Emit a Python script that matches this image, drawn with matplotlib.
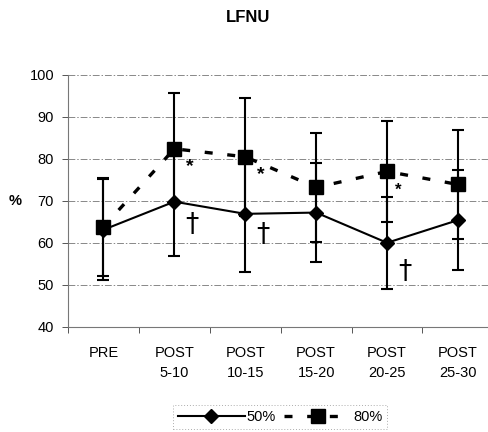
import matplotlib
matplotlib.use("Agg")
import matplotlib.pyplot as plt
import numpy as np

categories = ["PRE", "POST\n5-10", "POST\n10-15", "POST\n15-20", "POST\n20-25", "POST\n25-30"]
mean_50 = [63.1, 69.8, 66.9, 67.2, 60.0, 65.4]
sd_50 = [12.0, 12.9, 13.9, 11.9, 11.0, 12.0]
mean_80 = [63.8, 82.4, 80.5, 73.2, 77.0, 73.9]
sd_80 = [11.7, 13.2, 14.1, 13.0, 12.1, 13.0]
star_idx = [1, 2, 4]
dagger_idx = [1, 2, 4]
yticks = [40, 50, 60, 70, 80, 90, 100]

plt.rcParams['font.family'] = ['Liberation Sans', 'DejaVu Sans']

fig = plt.figure(figsize=(4.89, 4.32), dpi=100)
ax = fig.add_axes([0.139, 0.2438, 0.870, 0.5826])

x = np.arange(len(categories))

# grid
for v in yticks:
    ax.axhline(v, color='#888888', lw=0.7, ls=(0, (7, 2, 1.5, 2)), zorder=0)

ax.errorbar(x, mean_80, yerr=sd_80, fmt='none', ecolor='black', elinewidth=1.5,
            capsize=4.3, capthick=1.5, zorder=2)
ax.errorbar(x, mean_50, yerr=sd_50, fmt='none', ecolor='black', elinewidth=1.5,
            capsize=4.3, capthick=1.5, zorder=2)
l80, = ax.plot(x, mean_80, color='black', lw=2.4, ls=(0, (2.4, 4.4)),
               marker='s', ms=9.4, mfc='black', mec='black', label='80%', zorder=3)
l50, = ax.plot(x, mean_50, color='black', lw=1.5, ls='-',
               marker='D', ms=7.6, mfc='black', mec='black', label='50%', zorder=4)

# significance marks
star_y = [78.1, 76.3, 72.6]
star_dx = [0.22, 0.22, 0.16]
star_fs = [14, 14, 12]
for i, yy, dx, fs in zip(star_idx, star_y, star_dx, star_fs):
    ax.text(x[i] + dx, yy, '*', ha='center', va='center', fontsize=fs, fontweight='bold')
dag_y = [64.2, 61.8, 53.0]
for i, yy in zip(dagger_idx, dag_y):
    ax.text(x[i] + 0.25, yy, '\u2020', ha='center', va='center', fontsize=19,
            family=['DejaVu Sans'])

ax.set_xlim(-0.5, len(categories) - 0.5)
ax.set_ylim(40, 100)
ax.set_yticks(yticks)
ax.set_yticklabels([str(v) for v in yticks], fontsize=10.5)
ax.tick_params(axis='y', length=4, width=0.7, color='#555555', pad=6)

ax.set_xticks(x)
ax.set_xticklabels(categories, fontsize=10.5, linespacing=1.5)
ax.tick_params(axis='x', length=0, pad=14)
ax.set_xticks(np.arange(len(categories) + 1) - 0.5, minor=True)
ax.tick_params(axis='x', which='minor', length=4, width=0.7, color='#555555')

for s in ['top', 'right']:
    ax.spines[s].set_visible(False)
ax.spines['left'].set_color('#777777')
ax.spines['left'].set_linewidth(0.8)
ax.spines['bottom'].set_color('#777777')
ax.spines['bottom'].set_linewidth(0.8)

fig.text(15 / 489, 1 - 201 / 432, '%', fontsize=10.5, fontweight='bold', ha='center', va='center')
fig.text(248 / 489, 1 - 18 / 432, 'LFNU', fontsize=12, fontweight='bold', ha='center', va='center')

leg = fig.legend(handles=[l50, l80], labels=['50%', '80%'], loc='center',
                 bbox_to_anchor=(280 / 489, 1 - 417 / 432), ncol=2, fontsize=10.5,
                 handlelength=4.6, handletextpad=0.1, columnspacing=0.6,
                 frameon=True, fancybox=False, borderpad=0.35, borderaxespad=0)
leg.get_frame().set_edgecolor('#999999')
leg.get_frame().set_linestyle((0, (1, 2)))
leg.get_frame().set_linewidth(0.7)

fig.savefig('out.png', dpi=100)
